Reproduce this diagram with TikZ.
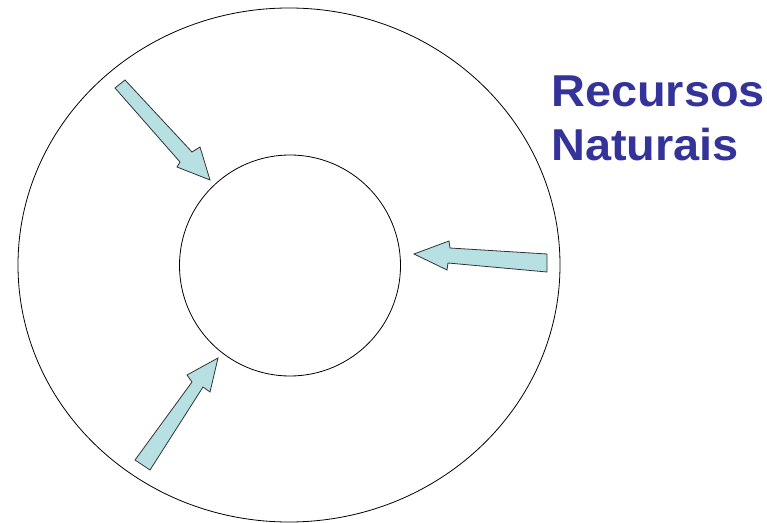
\documentclass[tikz,border=0pt]{standalone}
\usepackage{fontspec}
\setmainfont{Liberation Sans}
\definecolor{arrfill}{RGB}{183,224,227}
\definecolor{txtblue}{RGB}{51,51,153}
\begin{document}
\begin{tikzpicture}[x=0.75pt,y=-0.75pt,
  ring/.style={draw=black,line width=0.6pt},
  fatarrow/.style={draw=black!80,fill=arrfill,line width=0.6pt,line join=miter},
  label/.style={text=txtblue,font=\fontsize{33.5}{40}\selectfont\bfseries,anchor=base west,inner sep=0pt,xscale=1.05}]
\useasboundingbox (0,0) rectangle (767,523);
% outer ellipse and inner circle
\draw[ring] (289,265) ellipse [x radius=271, y radius=257];
\draw[ring] (290,265.5) circle [radius=110.5];
% upper-left arrow
\draw[fatarrow] (115,88) -- (125,80) -- (192,152) -- (200,147) -- (210,180) -- (177,167) -- (180,162) -- cycle;
% right arrow
\draw[fatarrow] (547,254) -- (450,248) -- (449,241) -- (414,254) -- (447,270) -- (448,263) -- (547,272) -- cycle;
% lower-left arrow
\draw[fatarrow] (135,460) -- (192,382) -- (187,375) -- (218,358) -- (210,392) -- (203,387) -- (150,470) -- cycle;
% text
\node[label] (t1) at (551,107) {Recursos};
\node[label] (t2) at (551,161) {Naturais};
\end{tikzpicture}
\end{document}
